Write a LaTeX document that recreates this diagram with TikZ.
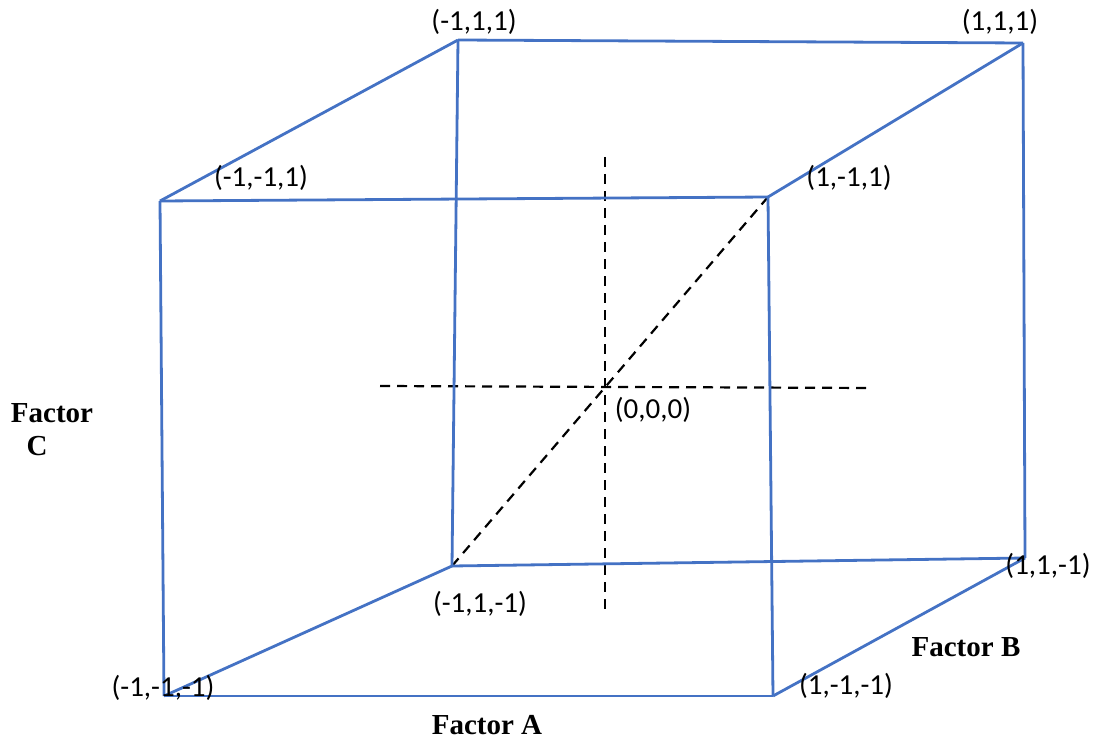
\documentclass[tikz,border=0pt]{standalone}
\usepackage{fontspec}
\setmainfont{Liberation Serif}
\newfontfamily\lbl{Carlito}
\begin{document}
\begin{tikzpicture}[x=1pt,y=-1pt,
  edge/.style={draw={rgb,255:red,68;green,114;blue,196}, line width=2.8pt},
  axis/.style={draw=black, line width=2.2pt, dash pattern=on 10pt off 7pt},
  lab/.style={font=\lbl\fontsize{29}{32}\selectfont, inner sep=0pt},
  fac/.style={font=\bfseries\fontsize{29}{33}\selectfont, inner sep=0pt, align=center}]
\useasboundingbox (0,0) rectangle (1096,741);
% vertices
\coordinate (v011) at (458,40);
\coordinate (v111) at (1023,43);
\coordinate (v001) at (160,201);
\coordinate (v101) at (768,197);
\coordinate (v000) at (164,696);
\coordinate (v100) at (773,696);
\coordinate (v010) at (452,566);
\coordinate (v110) at (1025,558);
% axis ends
\coordinate (ct) at (605,157);
\coordinate (cb) at (605,616);
\coordinate (cl) at (380,386);
\coordinate (cr) at (872,388);
% dashed axes
\draw[axis] (ct) -- (cb);
\draw[axis] (cl) -- (cr);
\draw[axis] (v010) -- (v101);
% cube edges
\draw[edge] (v011) -- (v111);
\draw[edge] (v011) -- (v010);
\draw[edge] (v111) -- (v110);
\draw[edge] (v010) -- (v110);
\draw[edge] (v001) -- (v011);
\draw[edge] (v101) -- (v111);
\draw[edge] (v000) -- (v010);
\draw[edge] (v100) -- (v110);
\draw[edge] (v001) -- (v101);
\draw[edge] (v001) -- (v000);
\draw[edge] (v101) -- (v100);
\draw[edge] (v000) -- (v100);
% labels
\node[lab] (l011) at (474,22) {(-1,1,1)};
\node[lab] (l111) at (1000,22) {(1,1,1)};
\node[lab] (l001) at (261,178) {(-1,-1,1)};
\node[lab] (l101) at (849,178) {(1,-1,1)};
\node[lab] (l000c) at (653,410) {(0,0,0)};
\node[lab] (l010) at (480,604) {(-1,1,-1)};
\node[lab] (l110) at (1048,566) {(1,1,-1)};
\node[lab] (l000) at (163,688) {(-1,-1,-1)};
\node[lab] (l100) at (846,686) {(1,-1,-1)};
\node[fac] (fb) at (966,647) {Factor B};
\node[fac] (fa) at (487,725) {Factor A};
\node[fac] (fc1) at (52,413) {Factor};
\node[fac] (fc2) at (37,446) {C};
\end{tikzpicture}
\end{document}
